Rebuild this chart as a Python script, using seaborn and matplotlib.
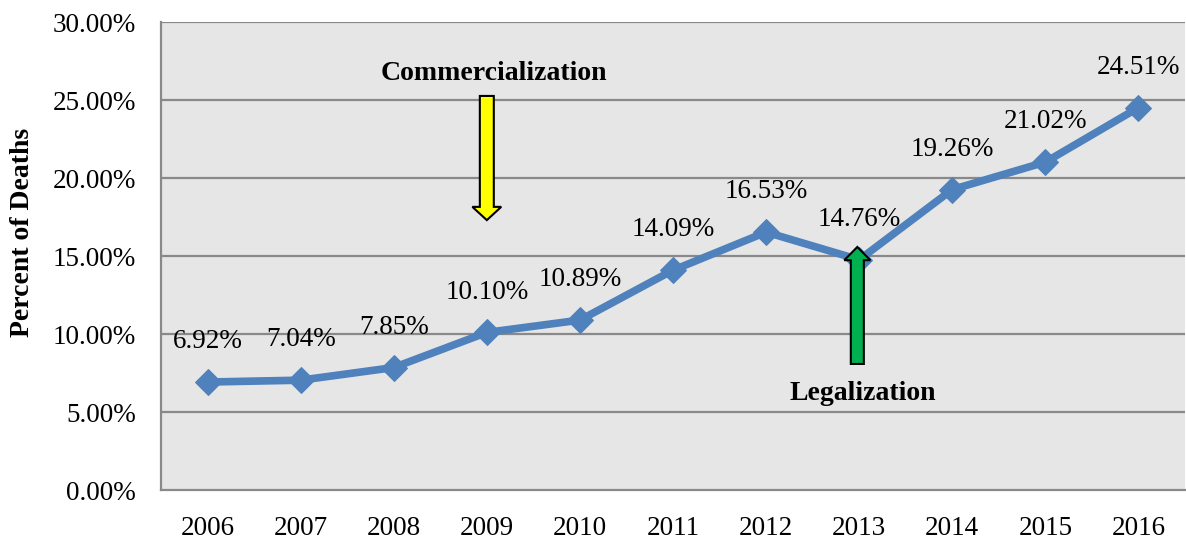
import matplotlib
matplotlib.use("Agg")
import matplotlib.pyplot as plt
import seaborn as sns
import pandas as pd
from matplotlib.patches import FancyArrow
from matplotlib.ticker import FixedLocator, FuncFormatter

years = [2006, 2007, 2008, 2009, 2010, 2011, 2012, 2013, 2014, 2015, 2016]
percent_deaths = [6.92, 7.04, 7.85, 10.10, 10.89, 14.09, 16.53, 14.76, 19.26, 21.02, 24.51]
y_ticks = [0, 5, 10, 15, 20, 25, 30]
y_label = "Percent of Deaths"
commercial_label = "Commercialization"
legal_label = "Legalization"
commercial_year = 2009
legal_year = 2013

df = pd.DataFrame({"year": years, "pct": percent_deaths})

sns.set_theme(style="white")
plt.rcParams['font.family'] = ['Liberation Serif', 'DejaVu Serif']

fig = plt.figure(figsize=(11.86, 5.42), dpi=100)
ax = fig.add_axes([161 / 1186, 52 / 542, 1024 / 1186, 468 / 542])
ax.set_facecolor("#E6E6E6")

for yv in y_ticks[1:]:
    ax.axhline(yv, color="#898989", lw=1.6, zorder=1)

sns.lineplot(data=df, x="year", y="pct", ax=ax, color="#4F81BD", lw=5.5,
             marker="D", markersize=13, markeredgecolor="#4F81BD", zorder=3)

for x, y in zip(years, percent_deaths):
    ax.annotate(f"{y:.2f}%", (x, y), xytext=(0, 29), textcoords="offset points",
                ha="center", va="center", fontsize=19.5, color="black", zorder=4)

ax.set_xlim(years[0] - 0.5, years[-1] + 0.5)
ax.set_ylim(y_ticks[0], y_ticks[-1])
ax.set_yticks(y_ticks)
ax.yaxis.set_major_formatter(FuncFormatter(lambda v, p: f"{v:.2f}%"))
ax.set_xticks(years)
ax.set_xticklabels([str(y) for y in years])
ax.xaxis.set_minor_locator(FixedLocator([y - 0.5 for y in years] + [years[-1] + 0.5]))
ax.tick_params(axis="x", which="major", length=0, pad=19, labelsize=19.5, colors="black")
ax.tick_params(axis="x", which="minor", length=8, width=1.6, color="#898989", direction="out")
ax.tick_params(axis="y", which="major", length=8, width=1.6, color="#898989", pad=10,
               labelsize=19.5, labelcolor="black", direction="out")
ax.tick_params(axis="x", labelcolor="black")

for s in ["top", "right"]:
    ax.spines[s].set_visible(False)
for s in ["left", "bottom"]:
    ax.spines[s].set_color("#898989")
    ax.spines[s].set_linewidth(1.6)

ax.set_xlabel("")
ax.set_ylabel("")
ax.text(-0.1357, 0.551, y_label, transform=ax.transAxes, rotation=90,
        ha="center", va="center", fontsize=20, fontweight="bold", color="black")

# Commercialization arrow (yellow, pointing down)
ax.add_patch(FancyArrow(commercial_year, 25.26, 0, 17.3 - 25.26, width=0.15,
                        head_width=0.31, head_length=0.85, length_includes_head=True,
                        facecolor="#FFFF00", edgecolor="black", lw=1.5, zorder=5))
ax.text(commercial_year + 0.08, 26.7, commercial_label, ha="center", va="center",
        fontsize=20, fontweight="bold", color="black", zorder=5)

# Legalization arrow (green, pointing up)
ax.add_patch(FancyArrow(legal_year - 0.02, 8.08, 0, 15.58 - 8.08, width=0.14,
                        head_width=0.28, head_length=0.85, length_includes_head=True,
                        facecolor="#00B050", edgecolor="black", lw=1.5, zorder=5))
ax.text(legal_year + 0.04, 6.2, legal_label, ha="center", va="center",
        fontsize=20, fontweight="bold", color="black", zorder=5)

fig.savefig("out.png", dpi=100, facecolor="white")
